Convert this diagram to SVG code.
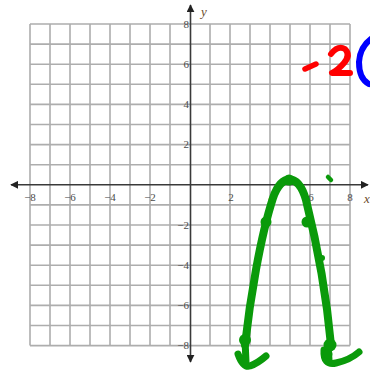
<svg xmlns="http://www.w3.org/2000/svg" width="370" height="374" viewBox="0 0 370 374">
<style>
.g{stroke:#adadad;stroke-width:1.6;fill:none}
.ax{stroke:#3a3a3a;stroke-width:1.6;fill:none}
.t{font-family:"Liberation Serif",serif;font-size:11px;fill:#4a4a4a}
.gr{stroke:#0a9a0a;fill:none;stroke-linecap:round;stroke-linejoin:round}
</style>
<defs>
<marker id="ah" viewBox="0 0 10 10" refX="9" refY="5" markerWidth="5" markerHeight="5" orient="auto-start-reverse"><path d="M0,0 L10,5 L0,10 z" fill="#222"/></marker>
</defs>
<rect width="370" height="374" fill="#fff"/>
<g id="grid">
<path class="g" d="M30,24V345.6M50,24V345.6M70,24V345.6M90,24V345.6M110,24V345.6M130,24V345.6M150,24V345.6M170,24V345.6M210,24V345.6M230,24V345.6M250,24V345.6M270,24V345.6M290,24V345.6M310,24V345.6M330,24V345.6M350,24V345.6"/>
<path class="g" d="M30,24H350M30,44.1H350M30,64.2H350M30,84.3H350M30,104.4H350M30,124.5H350M30,144.6H350M30,164.7H350M30,204.9H350M30,225H350M30,245.1H350M30,265.2H350M30,285.3H350M30,305.4H350M30,325.5H350M30,345.6H350"/>
</g>
<g id="connectors">
<line class="ax" x1="11" y1="184.8" x2="368" y2="184.8" marker-start="url(#ah)" marker-end="url(#ah)"/>
<line class="ax" x1="190.5" y1="5" x2="190.5" y2="362" marker-start="url(#ah)" marker-end="url(#ah)"/>
</g>
<g id="labels">
<text class="t" x="201" y="16" style="font-style:italic;font-size:13px;fill:#6a4a2a">y</text>
<text class="t" x="364" y="203" style="font-style:italic;font-size:13px;fill:#6a4a2a">x</text>
<g text-anchor="middle">
<text class="t" x="30" y="201">−8</text>
<text class="t" x="70" y="201">−6</text>
<text class="t" x="110" y="201">−4</text>
<text class="t" x="150" y="201">−2</text>
<text class="t" x="231" y="201">2</text>
<text class="t" x="271" y="201">4</text>
<text class="t" x="311" y="201">6</text>
<text class="t" x="350" y="201">8</text>
</g>
<g text-anchor="end">
<text class="t" x="189" y="28">8</text>
<text class="t" x="189" y="68">6</text>
<text class="t" x="189" y="108">4</text>
<text class="t" x="189" y="148">2</text>
<text class="t" x="189" y="229">−2</text>
<text class="t" x="189" y="269">−4</text>
<text class="t" x="189" y="309">−6</text>
<text class="t" x="189" y="349">−8</text>
</g>
</g>
<g id="ink">
<path class="gr" stroke-width="8" d="M245,345 C250,300 260,238 273,198 C281,174 298,172 306,200 C316,240 326,290 331,345"/>
<path class="gr" stroke-width="7" d="M245,340 L246,362 M238,354 Q243,368 250,366 Q258,363 266,356"/>
<path class="gr" stroke-width="7" d="M328,345 L329,360 M324,350 Q323,366 336,363 Q350,360 359,352"/>
<g fill="#0a9a0a">
<circle cx="289" cy="180" r="5.5"/>
<circle cx="266" cy="222" r="5.5"/>
<circle cx="307" cy="222" r="5.5"/>
<circle cx="322" cy="258" r="3"/>
<circle cx="245" cy="340" r="6"/>
<circle cx="330" cy="345" r="6.5"/>
<circle cx="328" cy="354" r="4.5"/>
</g>
<path class="gr" stroke-width="4.5" d="M328,177 L331,180"/>
<path d="M305,69 L316,64" stroke="#f00" stroke-width="5.5" stroke-linecap="round" fill="none"/>
<path d="M331,54 Q338,45 345,49 Q351,55 344,63 Q338,70 332,73 L350,73" stroke="#f00" stroke-width="6" stroke-linecap="round" stroke-linejoin="round" fill="none"/>
<path d="M371,39 Q360,47 359,62 Q359,79 369,84" stroke="#00f" stroke-width="6" stroke-linecap="round" fill="none"/>
</g>
</svg>
